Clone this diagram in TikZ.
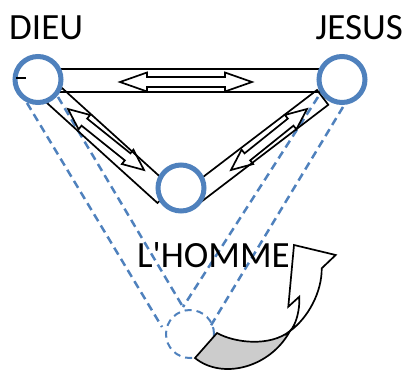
\documentclass[tikz,border=0pt]{standalone}
\usepackage{fontspec}
\newfontfamily\lbl{Carlito}[Ligatures=TeXOff]
\usetikzlibrary{calc}
\definecolor{ringblue}{HTML}{4F81BD}
\definecolor{graybk}{HTML}{CCCCCC}
\begin{document}
\begin{tikzpicture}[x=1pt,y=-1pt, line join=miter,
  ring/.style={circle, draw=ringblue, line width=5pt, fill=white, minimum size=46pt, inner sep=0pt},
  ghostring/.style={circle, draw=ringblue, line width=2pt, dash pattern=on 7pt off 5pt, minimum size=48pt, inner sep=0pt},
  guide/.style={draw=ringblue, line width=2.5pt, dash pattern=on 8pt off 5pt},
  band/.style={draw=black, line width=1.7pt},
  lab/.style={font=\lbl\fontsize{37}{42}\selectfont, inner sep=0pt}]
\useasboundingbox (0,0) rectangle (406,370);
% guide lines
\coordinate (g1s) at (27,103);  \coordinate (g1e) at (162,327);
\coordinate (g2s) at (58,97);   \coordinate (g2e) at (183,307);
\coordinate (g3s) at (318,97);  \coordinate (g3e) at (183,307);
\coordinate (g4s) at (343,107); \coordinate (g4e) at (210,327);
\draw[guide] (g1s) -- (g1e);
\draw[guide] (g2s) -- (g2e);
\draw[guide] (g3s) -- (g3e);
\draw[guide] (g4s) -- (g4e);
% bands
\draw[band] (60,69) rectangle (320,92);
\draw[band] (47,103) -- (62,88) -- (172.5,188) -- (157.5,203) -- cycle;
\draw[band] (317,90) -- (328.3,104.8) -- (201.1,201.9) -- (189.8,187.1) -- cycle;
% double arrows
\begin{scope}[shift={(186,82)}]
  \draw[band] (-66,0) -- (-39,-9.5) -- (-39,-5) -- (39,-5) -- (39,-9.5) -- (66,0) -- (39,9.5) -- (39,5) -- (-39,5) -- (-39,9.5) -- cycle;
\end{scope}
\begin{scope}[shift={(106,139.5)}, rotate=-38.75]
  \draw[band] (-48.75,0) -- (-27.75,-9.2) -- (-27.75,-4.5) -- (27.75,-4.5) -- (27.75,-9.2) -- (48.75,0) -- (27.75,9.2) -- (27.75,4.5) -- (-27.75,4.5) -- (-27.75,9.2) -- cycle;
\end{scope}
\begin{scope}[shift={(269,139.5)}, rotate=38.75]
  \draw[band] (-48.75,0) -- (-27.75,-9.2) -- (-27.75,-4.5) -- (27.75,-4.5) -- (27.75,-9.2) -- (48.75,0) -- (27.75,9.2) -- (27.75,4.5) -- (-27.75,4.5) -- (-27.75,9.2) -- cycle;
\end{scope}
% circles
\node[ring] (dieu) at (38,79.5) {};
\node[ring] (jesus) at (342,79.5) {};
\node[ring] (homme) at (181,188) {};
\draw[line width=1.5pt] (16,78) -- (26,78);
\node[ghostring] (ghost) at (190,334) {};
% curved arrow
\draw[band, fill=graybk] (195,358) -- (217,333) .. controls (235,343) and (270,347) .. (290,331) .. controls (270,368) and (222,380) .. (195,358) -- cycle;
\draw[band, fill=white] (290,331) .. controls (308,318) and (322,292) .. (321.7,268.3) -- (335.7,255) -- (294,245) -- (288.3,306.7) -- (299.3,296.7) .. controls (300,310) and (296,325) .. (290,331) -- cycle;
% labels
\node[lab, anchor=base west] (dieuL) at (9,39) {DIEU};
\node[lab, anchor=base east] (jesusL) at (403,39) {JESUS};
\node[lab, anchor=base west] (hommeL) at (137,267) {L'HOMME};
\end{tikzpicture}
\end{document}
